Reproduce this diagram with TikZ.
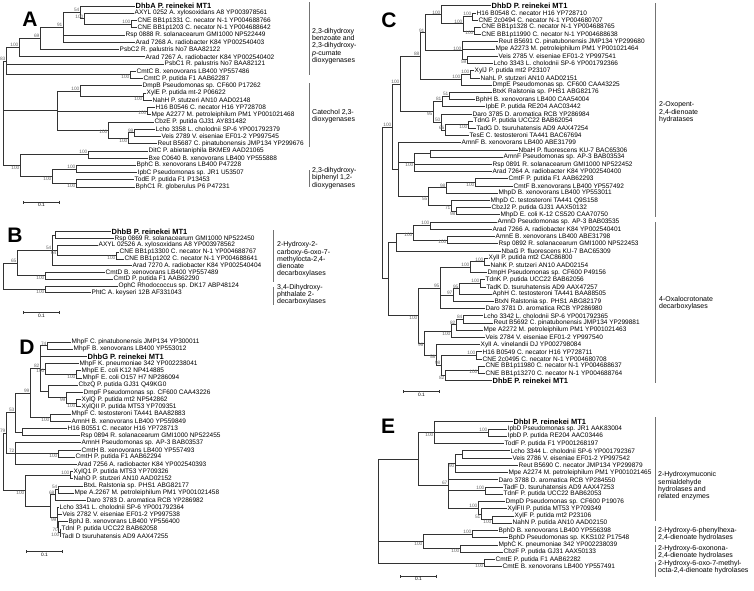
\documentclass[tikz,border=0pt]{standalone}
\usepackage{fontspec}
\setmainfont{Liberation Sans}
\usetikzlibrary{calc, arrows.meta}
\newcommand\reffont{\fontsize{7.5}{8}\selectfont\bfseries}
% clade: name, x, first child, last child (y = midpoint)
\newcommand\clade[4]{\path ($(#3)!.5!(#4)$) coordinate (mid); \coordinate (#1) at (#2,0 |- mid);}
\tikzset{
  leaf/.style={anchor=west, inner sep=0.5pt, font=\fontsize{6.5}{7}\selectfont},
  branch/.style={draw=black!80, line width=0.6pt},
  boot/.style={anchor=south east, inner sep=0.4pt, text=black!60, font=\fontsize{4.8}{5}\selectfont},
  bootb/.style={boot, anchor=north east},
  grp/.style={anchor=west, align=left, inner sep=0pt, font=\fontsize{7}{7.3}\selectfont},
  grpline/.style={draw=black!55, line width=0.6pt},
  panel/.style={inner sep=0pt, font=\fontsize{21}{21}\selectfont\bfseries},
  scalebar/.style={branch, {Bar[width=3pt]}-{Bar[width=3pt]}},
  sclab/.style={below, inner sep=1.2pt, font=\fontsize{4.8}{5}\selectfont},
}
\begin{document}
\begin{tikzpicture}[x=1pt, y=-1pt]
\useasboundingbox (0,0) rectangle (754,590);

% ---- A ----
\node[panel] (pA) at (30,19) {A};
\foreach \px/\lab [count=\i] in {
  135/{\reffont DhbA P. reinekei MT1},
  134/AXYL 0252 A. xylosoxidans A8 YP003978561,
  137/CNE BB1p1331 C. necator N-1 YP004688766,
  137/CNE BB1p1203 C. necator N-1 YP004688642,
  125/Rsp 0888 R. solanacearum GMI1000 NP522449,
  135/Arad 7268 A. radiobacter K84 YP002540403,
  119/PsbC2 R. palustris No7 BAA82122,
  145/Arad 7267 A. radiobacter K84 YP002540402,
  164/PsbC1 R. palustris No7 BAA82121,
  136/CmtC B. xenovorans LB400 YP557486,
  143/CmtC P. putida F1 AAB62287,
  142/DmpB Pseudomonas sp. CF600 P17262,
  146/XylE P. putida mt-2 P06622,
  152/NahH P. stutzeri AN10 AAD02148,
  155/H16 B0546 C. necator H16 YP728708,
  151/Mpe A2277 M. petroleiphilum PM1 YP001021468,
  154/CbzE P. putida GJ31 AY831482,
  155/Lcho 3358 L. cholodnii SP-6 YP001792379,
  161/Veis 2789 V. eiseniae EF01-2 YP997545,
  157/Reut B5687 C. pinatubonensis JMP134 YP299676,
  148/DitC P. abietaniphila BKME9 AAD21065,
  148/Bxe C0640 B. xenovorans LB400 YP555888,
  136/BphC B. xenovorans LB400 P47228,
  137/IpbC Pseudomonas sp. JR1 U53507,
  134/TodE P. putida F1 P13453,
  135/BphC1 R. globerulus P6 P47231}
  \node[leaf] (a\i) at (\px,{6+(\i-1)*7.24}) {\lab};
\clade{acne}{131}{a3}{a4}
\clade{aax}{84}{a2}{acne}
\clade{a54}{80}{a1}{aax}
\clade{a91}{63}{a54}{a6}
\clade{a69}{40}{a91}{a7}
\clade{a100t}{19}{a69}{a8}
\clade{acmt}{130}{a10}{a11}
\clade{a83}{6}{a100t}{acmt}
\clade{axyl}{143}{a13}{a14}
\clade{admp}{80}{a12}{axyl}
\clade{ah16}{147}{a15}{a16}
\clade{alv}{134}{a18}{a19}
\clade{arv}{128}{alv}{a20}
\clade{albz}{108}{a17}{arv}
\clade{acat}{57}{admp}{albz}
\clade{adit}{88}{a21}{a22}
\clade{ab1}{76}{a23}{a24}
\clade{ab2}{76}{a25}{a26}
\clade{abph}{52}{ab1}{ab2}
\clade{alow}{20}{adit}{abph}
\clade{ar}{3}{a83}{alow}
\foreach \p/\c in {ar/a83, ar/acat, ar/alow, a83/a100t, a83/a9, a83/acmt,
  a100t/a69, a100t/a8, a69/a91, a69/a7, a91/a54, a91/a5, a91/a6,
  a54/a1, a54/aax, aax/a2, aax/acne, acne/a3, acne/a4, acmt/a10, acmt/a11,
  acat/admp, acat/ah16, acat/albz, admp/a12, admp/axyl, axyl/a13, axyl/a14,
  ah16/a15, ah16/a16, albz/a17, albz/arv, arv/alv, arv/a20, alv/a18, alv/a19,
  alow/adit, alow/abph, adit/a21, adit/a22, abph/ab1, abph/ab2,
  ab1/a23, ab1/a24, ab2/a25, ab2/a26}
  \draw[branch] (\p) |- (\c);
\foreach \n/\v in {a54/54, aax/100, acne/100, a91/91, a69/69, a100t/100, a83/83,
  admp/100, alv/99, adit/100, ab1/100}
  \node[boot] at (\n) {\v};
\foreach \n/\v in {acmt/100, axyl/100, ah16/100, arv/100, albz/100, abph/100,
  ab2/100, alow/100}
  \node[bootb] at (\n) {\v};
\coordinate (sa1) at (23,202); \coordinate (sa2) at (60,202);
\draw[scalebar] (sa1) -- node[sclab] {0.1} (sa2);
\draw[grpline] (309,2) -- (309,75);
\draw[grpline] (309,83) -- (309,147);
\draw[grpline] (309,170) -- (309,187);
\node[grp] (ga1) at (312,46) {2,3-dihydroxy\\benzoate and\\2,3-dihydroxy-\\\textit{p}-cumate\\dioxygenases};
\node[grp] (ga2) at (312,116) {Catechol 2,3-\\dioxygenases};
\node[grp] (ga3) at (312,178) {2,3-dihydroxy-\\biphenyl 1,2-\\dioxygenases};

% ---- B ----
\node[panel] (pB) at (15,235) {B};
\foreach \px/\lab [count=\i] in {
  111/{\reffont DhbB P. reinekei MT1},
  114/Rsp 0869 R. solanacearum GMI1000 NP522450,
  98/AXYL 02526 A. xylosoxidans A8 YP003978562,
  119/CNE BB1p13300 C. necator N-1 YP004688767,
  124/CNE BB1p1202 C. necator N-1 YP004688641,
  132/Arad 7270 A. radiobacter K84 YP002540404,
  105/CmtD B. xenovorans LB400 YP557489,
  113/CmtD P. putida F1 AAB62290,
  118/OphC Rhodococcus sp. DK17 ABP48124,
  91/PhtC A. keyseri 12B AF331043}
  \node[leaf] (b\i) at (\px,{231.7+(\i-1)*6.78}) {\lab};
\clade{bd}{55}{b1}{b2}
\clade{bcne}{116}{b4}{b5}
\clade{b64}{57}{b3}{bcne}
\clade{b54}{52}{bd}{b6}
\clade{bcmt}{45}{b7}{b8}
\clade{b65}{17}{b54}{bcmt}
\clade{boph}{45}{b9}{b10}
\clade{br}{3}{b65}{boph}
\foreach \p/\c in {br/b65, br/boph, b65/b54, b65/bcmt, b54/bd, b54/b64, b54/b6,
  bd/b1, bd/b2, b64/b3, b64/bcne, bcne/b4, bcne/b5, bcmt/b7, bcmt/b8,
  boph/b9, boph/b10}
  \draw[branch] (\p) |- (\c);
\foreach \n/\v in {b54/54, b65/65}
  \node[boot] at (\n) {\v};
\foreach \n/\v in {b64/64, bcne/100, bcmt/100, boph/100}
  \node[bootb] at (\n) {\v};
\coordinate (sb1) at (23,312.5); \coordinate (sb2) at (60,312.5);
\draw[scalebar] (sb1) -- node[sclab] {0.1} (sb2);
\draw[grpline] (273,230) -- (273,282);
\draw[grpline] (273,287) -- (273,305);
\node[grp] (gb1) at (277,259.5) {2-Hydroxy-2-\\carboxy-6-oxo-7-\\methylocta-2,4-\\dienoate\\decarboxylases};
\node[grp] (gb2) at (277,294.5) {3,4-Dihydroxy-\\phthalate 2-\\decarboxylases};

% ---- D ----
\node[panel] (pD) at (27,347) {D};
\foreach \px/\lab [count=\i] in {
  71/MhpF C. pinatubonensis JMP134 YP300011,
  73/MhpF B. xenovorans LB400 YP553012,
  87/{\reffont DhbG P. reinekei MT1},
  79/MhpF K. pneumoniae 342 YP002238041,
  81/MhpE E. coli K12 NP414885,
  82/MhpF E. coli O157 H7 NP286094,
  78/CbzQ P. putida GJ31 Q49KG0,
  83/DmpF Pseudomonas sp. CF600 CAA43226,
  81/XylQ P. putida mt2 NP542862,
  81/XylQII P. putida MT53 YP709351,
  71/MhpF C. testosteroni TA441 BAA82883,
  71/AmnH B. xenovorans LB400 YP559849,
  67/H16 B0551 C. necator H16 YP728713,
  80/Rsp 0894 R. solanacearum GMI1000 NP522455,
  81/AmnH Pseudomonas sp. AP-3 BAB03537,
  81/CmtH B. xenovorans LB400 YP557493,
  75/CmtH P. putida F1 AAB62294,
  77/Arad 7256 A. radiobacter K84 YP002540393,
  73/XylQ1 P. putida MT53 YP709326,
  73/NahO P. stutzeri AN10 AAD02152,
  83/BtxL Ralstonia sp. PHS1 ABG82177,
  74/Mpe A.2267 M. petroleiphilum PM1 YP001021458,
  86/Daro 3783 D. aromatica RCB YP286982,
  59/Lcho 3341 L. cholodnii SP-6 YP001792364,
  62/Veis 2782 V. eiseniae EF01-2 YP997538,
  68/BphJ B. xenovorans LB400 YP556400,
  61/TdnI P. putida UCC22 BAB62058,
  61/TadI D tsuruhatensis AD9 AAX47255}
  \node[leaf] (d\i) at (\px,{342+(\i-1)*7.19}) {\lab};
\clade{d74}{47}{d1}{d2}
\clade{dec}{76}{d5}{d6}
\clade{dk}{45}{d4}{dec}
\clade{dxq}{76}{d9}{d10}
\clade{ddx}{66}{d8}{dxq}
\clade{dcb}{48}{d7}{ddx}
\clade{d82}{40}{d74}{dcb}
\clade{damn}{50}{d11}{d12}
\clade{d99}{30}{d82}{damn}
\clade{dh16}{22}{d13}{d14}
\clade{d53}{15}{d99}{dh16}
\clade{dcm}{58}{d16}{d17}
\clade{d72}{15}{d15}{d18}
\clade{d79}{6}{d53}{d72}
\clade{dxo}{70}{d19}{d20}
\clade{d54}{58}{d21}{d22}
\clade{d68}{55}{d54}{d23}
\clade{dtd}{60}{d27}{d28}
\clade{d70}{58.5}{d26}{dtd}
\clade{d99c}{57}{d24}{d70}
\clade{dbt}{50}{d68}{d99c}
\clade{dlow}{25}{dxo}{dbt}
\clade{dr}{3}{d79}{dlow}
\foreach \p/\c in {dr/d79, dr/dlow, d79/d53, d79/d72, d53/d99, d53/dh16,
  d99/d82, d99/damn, d82/d74, d82/d3, d82/dk, d82/dcb, d74/d1, d74/d2,
  dk/d4, dk/dec, dec/d5, dec/d6, dcb/d7, dcb/ddx, ddx/d8, ddx/dxq,
  dxq/d9, dxq/d10, damn/d11, damn/d12, dh16/d13, dh16/d14,
  d72/d15, d72/dcm, d72/d18, dcm/d16, dcm/d17, dlow/dxo, dlow/dbt,
  dxo/d19, dxo/d20, dbt/d68, dbt/d99c, d68/d54, d68/d23, d54/d21, d54/d22,
  d99c/d24, d99c/d25, d99c/d70, d70/d26, d70/dtd, dtd/d27, dtd/d28}
  \draw[branch] (\p) |- (\c);
\foreach \n/\v in {d74/74, d82/82, d99/99, d53/53, d79/79, d72/72, dxo/100,
  d54/54, d68/68}
  \node[boot] at (\n) {\v};
\foreach \n/\v in {dk/100, dec/100, ddx/99, dxq/100, damn/100, dcm/100,
  dlow/100, d99c/99, d70/70, dtd/100}
  \node[bootb] at (\n) {\v};
\coordinate (sd1) at (26,551.7); \coordinate (sd2) at (63,551.7);
\draw[scalebar] (sd1) -- node[sclab] {0.1} (sd2);

% ---- C ----
\node[panel] (pC) at (389,20) {C};
\foreach \px/\lab [count=\i] in {
  491/{\reffont DhbD P. reinekei MT1},
  476/H16 B0548 C. necator H16 YP728710,
  478/CNE 2c0494 C. necator N-1 YP004680707,
  481/CNE BB1p1328 C. necator N-1 YP004688765,
  481/CNE BB1p11990 C. necator N-1 YP004688638,
  498/Reut B5691 C. pinatubonensis JMP134 YP299680,
  495/Mpe A2273 M. petroleiphilum PM1 YP001021464,
  498/Veis 2785 V. eiseniae EF01-2 YP997541,
  493/Lcho 3343 L. cholodnii SP-6 YP001792366,
  474/XylJ P. putida mt2 P23107,
  480/NahL P. stutzeri AN10 AAD02151,
  492/DmpE Pseudomonas sp. CF600 CAA43225,
  492/BtxK Ralstonia sp. PHS1 ABG82176,
  475/BphH B. xenovorans LB400 CAA54004,
  485/IpbE P. putida RE204 AAC03442,
  472/Daro 3785 D. aromatica RCB YP286984,
  473/TdnG P. putida UCC22 BAB62054,
  476/TadG D. tsuruhatensis AD9 AAX47254,
  469/TesE C. testosteroni TA441 BAC67694,
  461/AmnF B. xenovorans LB400 ABE31799,
  518/NbaH P. fluorescens KU-7 BAC65306,
  503/AmnF Pseudomonas sp. AP-3 BAB03534,
  492/Rsp 0891 R. solanacearum GMI1000 NP522452,
  492/Arad 7264 A. radiobacter K84 YP002540400,
  508/CmtF P. putida F1 AAB62293,
  513/CmtF B.xenovorans LB400 YP557492,
  498/MhpD B. xenovorans LB400 YP553011,
  490/MhpD C. testosteroni TA441 Q9S158,
  491/CbzJ2 P. putida GJ31 AAX50132,
  500/MhpD E. coli K-12 CS520 CAA70750,
  497/AmnD Pseudomonas sp. AP-3 BAB03535,
  492/Arad 7266 A. radiobacter K84 YP002540401,
  495/AmnE B. xenovorans LB400 ABE31798,
  498/Rsp 0892 R. solanacearum GMI1000 NP522453,
  501/NbaG P. fluorescens KU-7 BAC65309,
  488/XylI P. putida mt2 CAC86800,
  490/NahK P. stutzeri AN10 AAD02154,
  487/DmpH Pseudomonas sp. CF600 P49156,
  485/TdnK P. putida UCC22 BAB62056,
  486/TadK D. tsuruhatensis AD9 AAX47257,
  492/AphH C. testosteroni TA441 BAA88505,
  494/BtxN Ralstonia sp. PHS1 ABG82179,
  485/Daro 3781 D. aromatica RCB YP286980,
  483/Lcho 3342 L. cholodnii SP-6 YP001792365,
  493/Reut B5692 C. pinatubonensis JMP134 YP299881,
  483/Mpe A2272 M. petroleiphilum PM1 YP001021463,
  485/Veis 2784 V. eiseniae EF01-2 YP997540,
  480/XylI A. vinelandii DJ YP002798084,
  482/H16 B0549 C. necator H16 YP728711,
  482/CNE 2c0495 C. necator N-1 YP004680708,
  485/CNE BB1p11980 C. necator N-1 YP004688637,
  485/CNE BB1p13270 C. necator N-1 YP004688764,
  492/{\reffont DhbE P. reinekei MT1}}
  \node[leaf] (c\i) at (\px,{5.7+(\i-1)*7.21}) {\lab};
\clade{ch1}{472}{c2}{c3}
\clade{ch2}{474}{c4}{c5}
\clade{ch}{463}{ch1}{ch2}
\clade{cdh}{441}{c1}{ch}
\clade{c59}{467}{c8}{c9}
\clade{crm}{462}{c6}{c59}
\clade{c91}{425}{cdh}{crm}
\clade{cxn}{470}{c10}{c11}
\clade{cx}{461}{cxn}{c12}
\clade{c88}{420}{c91}{cx}
\clade{c51n}{449}{c13}{c14}
\clade{c81}{442}{c51n}{c15}
\clade{ctt}{468}{c17}{c18}
\clade{c66}{445}{ctt}{c19}
\clade{c50n}{441}{c16}{c66}
\clade{c95}{433}{c81}{c50n}
\clade{cbig}{400}{c88}{c95}
\clade{cnb}{430}{c21}{c22}
\clade{cn}{414}{cnb}{c24}
\clade{ccf}{475}{c25}{c26}
\clade{c98a}{446}{ccf}{c27}
\clade{c98b}{456}{c29}{c30}
\clade{c71}{451}{c28}{c98b}
\clade{c55}{428}{c98a}{c71}
\clade{clow}{398}{c20}{c55}
\clade{chyd}{392}{cbig}{clow}
\clade{cd1}{430}{c31}{c32}
\clade{ce}{447}{c33}{c34}
\clade{camn}{413}{cd1}{ce}
\clade{co1}{396}{camn}{c35}
\clade{cxk}{484}{c36}{c37}
\clade{cx2}{470}{cxk}{c38}
\clade{ctk}{480}{c39}{c40}
\clade{c95b}{459}{ctk}{c41}
\clade{c97}{453}{c95b}{c42}
\clade{c95o}{440}{cx2}{c43}
\clade{c84}{463}{c44}{c45}
\clade{c82}{456}{c84}{c46}
\clade{clr}{451}{c82}{c47}
\clade{chc}{476}{c49}{c50}
\clade{ccc}{478}{c51}{c52}
\clade{c82c}{445}{ccc}{c53}
\clade{c98}{441}{chc}{c82c}
\clade{c58}{436}{c48}{c98}
\clade{c96}{424}{clr}{c58}
\clade{c100o}{418}{c95o}{c96}
\clade{coxa}{388}{co1}{c100o}
\clade{cr}{382}{chyd}{coxa}
\foreach \p/\c in {cr/chyd, cr/coxa, chyd/cbig, chyd/clow, cbig/c88, cbig/c95,
  c88/c91, c88/cx, c91/cdh, c91/crm, cdh/c1, cdh/ch, ch/ch1, ch/ch2,
  ch1/c2, ch1/c3, ch2/c4, ch2/c5, crm/c6, crm/c7, crm/c59, c59/c8, c59/c9,
  cx/cxn, cx/c12, cxn/c10, cxn/c11, c95/c81, c95/c50n,
  c81/c51n, c81/c15, c51n/c13, c51n/c14, c50n/c16, c50n/c66,
  c66/ctt, c66/c19, ctt/c17, ctt/c18,
  clow/c20, clow/cn, clow/c55, cn/cnb, cn/c23, cn/c24, cnb/c21, cnb/c22,
  c55/c98a, c55/c71, c98a/ccf, c98a/c27, ccf/c25, ccf/c26,
  c71/c28, c71/c98b, c98b/c29, c98b/c30,
  coxa/co1, coxa/c100o, co1/camn, co1/c35, camn/cd1, camn/ce,
  cd1/c31, cd1/c32, ce/c33, ce/c34, c100o/c95o, c100o/c96,
  c95o/cx2, c95o/c97, c95o/c43, cx2/cxk, cx2/c38, cxk/c36, cxk/c37,
  c97/c95b, c97/c42, c95b/ctk, c95b/c41, ctk/c39, ctk/c40,
  c96/clr, c96/c58, clr/c82, clr/c47, c82/c84, c82/c46, c84/c44, c84/c45,
  c58/c48, c58/c98, c98/chc, c98/c82c, chc/c49, chc/c50,
  c82c/ccc, c82c/c53, ccc/c51, ccc/c52}
  \draw[branch] (\p) |- (\c);
\foreach \n/\v in {cdh/100, ch/100, ch1/100, c91/91, crm/100, c88/88, cbig/100,
  cx/100, cxn/100, c81/81, c51n/51, c50n/50, c66/66, chyd/100, c98a/98,
  cd1/100, cxk/100, cx2/100, ctk/100, c95b/95, c97/97, c95o/95, c84/84,
  c82/82, c98/98, chc/100}
  \node[boot] at (\n) {\v};
\foreach \n/\v in {ch2/100, c59/59, c95/95, ctt/100, cn/100, ccf/100, c55/55,
  c71/71, c98b/98, camn/100, ce/100, c100o/100, clr/100, c96/96, c58/58,
  ccc/100, c82c/82}
  \node[bootb] at (\n) {\v};
\coordinate (sc1) at (403,391.7); \coordinate (sc2) at (440,391.7);
\draw[scalebar] (sc1) -- node[sclab] {0.1} (sc2);
\draw[grpline] (655,3) -- (655,217);
\draw[grpline] (655,222) -- (655,383);
\node[grp] (gc1) at (659,112.5) {2-Oxopent-\\2,4-dienoate\\hydratases};
\node[grp] (gc2) at (659,303.5) {4-Oxalocrotonate\\decarboxylases};

% ---- E ----
\node[panel] (pE) at (388,426) {E};
\foreach \px/\lab [count=\i] in {
  513/{\reffont DhbI P. reinekei MT1},
  507/IpbD Pseudomonas sp. JR1 AAK83004,
  507/IpbD P. putida RE204 AAC03446,
  504/TodF P. putida F1 YP001268197,
  510/Lcho 3344 L. cholodnii SP-6 YP001792367,
  512/Veis 2786 V. eiseniae EF01-2 YP997542,
  518/Reut B5690 C. necator JMP134 YP299879,
  508/Mpe A2274 M. petroleiphilum PM1 YP001021465,
  498/Daro 3788 D. aromatica RCB YP284550,
  503/TadF D. tsuruhatensis AD9 AAX47253,
  503/TdnF P. putida UCC22 BAB62053,
  505/DmpD Pseudomonas sp. CF600 P19076,
  507/XylFII P. putida MT53 YP709349,
  514/XylF P. putida mt2 P23106,
  512/NahN P. putida AN10 AAD02150,
  498/BphD B. xenovorans LB400 YP556398,
  508/BphD Pseudomonas sp. KKS102 P17548,
  498/MphC K. pneumoniae 342 YP002238039,
  503/CbzF P. putida GJ31 AAX50133,
  495/CmtE P. putida F1 AAB62282,
  502/CmtE B. xenovorans LB400 YP557491}
  \node[leaf] (e\i) at (\px,{421.7+(\i-1)*7.25}) {\lab};
\clade{eip}{488}{e2}{e3}
\clade{edh}{434}{e1}{e4}
\clade{elv}{462}{e5}{e6}
\clade{e90}{455}{elv}{e8}
\clade{etd}{485}{e10}{e11}
\clade{exn}{492}{e14}{e15}
\clade{e51}{481}{e13}{exn}
\clade{ex}{478}{e12}{e51}
\clade{e67}{448}{e90}{ex}
\clade{etop}{418}{edh}{e67}
\clade{ebp}{472}{e16}{e17}
\clade{emc}{460}{e18}{e19}
\clade{ebm}{423}{ebp}{emc}
\clade{ecm}{484}{e20}{e21}
\clade{er}{378}{etop}{ecm}
\foreach \p/\c in {er/etop, er/ebm, er/ecm, etop/edh, etop/e67,
  edh/e1, edh/eip, edh/e4, eip/e2, eip/e3,
  e67/e90, e67/e9, e67/etd, e67/ex, e90/elv, e90/e7, e90/e8, elv/e5, elv/e6,
  etd/e10, etd/e11, ex/e12, ex/e51, e51/e13, e51/exn, exn/e14, exn/e15,
  ebm/ebp, ebm/emc, ebp/e16, ebp/e17, emc/e18, emc/e19, ecm/e20, ecm/e21}
  \draw[branch] (\p) |- (\c);
\foreach \n/\v in {eip/100, e67/67, etd/100, ex/100, ebp/100}
  \node[boot] at (\n) {\v};
\foreach \n/\v in {edh/100, e90/90, e51/51, exn/100, ebm/100, emc/100, ecm/100}
  \node[bootb] at (\n) {\v};
\coordinate (se1) at (400,576); \coordinate (se2) at (437,576);
\draw[scalebar] (se1) -- node[sclab] {0.1} (se2);
\draw[grpline] (655,417) -- (655,521);
\draw[grpline] (655,526) -- (655,541.5);
\draw[grpline] (655,544.5) -- (655,559);
\draw[grpline] (655,561.5) -- (655,577);
\node[grp] (ge1) at (658,486) {2-Hydroxymuconic\\semialdehyde\\hydrolases and\\related enzymes};
\node[grp] (ge2) at (658,534) {2-Hydroxy-6-phenylhexa-\\2,4-dienoate hydrolases};
\node[grp] (ge3) at (658,552) {2-Hydroxy-6-oxonona-\\2,4-dienoate hydrolases};
\node[grp] (ge4) at (658,567.5) {2-Hydroxy-6-oxo-7-methyl-\\octa-2,4-dienoate hydrolases};
\end{tikzpicture}
\end{document}
